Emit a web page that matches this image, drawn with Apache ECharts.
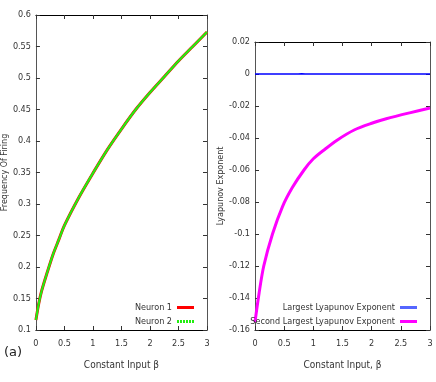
<!DOCTYPE html>
<html>
<head>
<meta charset="utf-8">
<script src="https://cdn.jsdelivr.net/npm/echarts@6/dist/echarts.min.js"></script>
<style>
  html, body { margin: 0; padding: 0; background: #fff; }
  #chart { width: 436px; height: 382px; }
</style>
</head>
<body>
<div id="chart"></div>
<script>
// left panel: firing frequency vs constant input
var betaF = [0, 0.05, 0.1, 0.2, 0.3, 0.4, 0.5, 0.75, 1.0, 1.25, 1.5, 1.75, 2.0, 2.25, 2.5, 2.75, 3.0];
var freqN1 = [0.116, 0.142, 0.162, 0.192, 0.220, 0.243, 0.266, 0.310, 0.349, 0.386, 0.419, 0.450, 0.477, 0.502, 0.527, 0.550, 0.573];
var freqN2 = [0.116, 0.142, 0.162, 0.192, 0.220, 0.243, 0.266, 0.310, 0.349, 0.386, 0.419, 0.450, 0.477, 0.502, 0.527, 0.550, 0.573];

// right panel: lyapunov exponents
var betaL = [0, 0.07, 0.15, 0.3, 0.47, 0.64, 0.84, 1.0, 1.2, 1.4, 1.7, 2.0, 2.25, 2.65, 3.0];
var lyap2 = [-0.155, -0.137, -0.120, -0.100, -0.083, -0.071, -0.060, -0.053, -0.047, -0.0415, -0.0350, -0.0308, -0.0280, -0.0243, -0.0213];
var betaL1 = [0, 0.74, 0.77, 0.8, 0.83, 0.86, 3.0];
var lyap1 = [0, 0, 0.0008, 0.0002, -0.0006, 0, 0];

function pairs(xs, ys) {
  return xs.map(function (x, i) { return [x, ys[i]]; });
}

var tickFont = "'Liberation Sans Narrow', 'DejaVu Sans Condensed', 'Liberation Sans', sans-serif";
var fmt = function (v) { return String(Math.round(v * 1000) / 1000); };

function xBottom(grid, name) {
  return {
    type: "value", gridIndex: grid, min: 0, max: 3, interval: 0.5, position: "bottom",
    name: name, nameLocation: "middle", nameGap: 30,
    nameTextStyle: { fontFamily: tickFont, fontSize: 10, color: "#333" },
    axisLine: { onZero: false, lineStyle: { color: "#000", width: 1 } },
    axisTick: { inside: true, length: 4, lineStyle: { color: "#333" } },
    axisLabel: { fontFamily: tickFont, fontSize: 9, color: "#333", margin: 9, formatter: fmt },
    splitLine: { show: false }
  };
}
function xTop(grid) {
  return {
    type: "value", gridIndex: grid, min: 0, max: 3, interval: 0.5, position: "top",
    axisLine: { onZero: false, lineStyle: { color: "#000", width: 1 } },
    axisTick: { inside: true, length: 4, lineStyle: { color: "#333" } },
    axisLabel: { show: false }, splitLine: { show: false }
  };
}
function yLeft(grid, min, max, step, name) {
  return {
    type: "value", gridIndex: grid, min: min, max: max, interval: step, position: "left",
    name: name, nameLocation: "middle", nameGap: grid === 0 ? 24 : 27,
    nameTextStyle: { fontFamily: "'DejaVu Sans', sans-serif", fontSize: 8, color: "#333" },
    axisLine: { show: true, onZero: false, lineStyle: { color: "#555", width: 1 } },
    axisTick: { show: true, inside: true, length: 4, lineStyle: { color: "#333" } },
    axisLabel: { fontFamily: tickFont, fontSize: 9, color: "#333", margin: 5, formatter: fmt },
    splitLine: { show: false }
  };
}
function yRight(grid, min, max, step) {
  return {
    type: "value", gridIndex: grid, min: min, max: max, interval: step, position: "right",
    axisLine: { show: true, onZero: false, lineStyle: { color: "#555", width: 1 } },
    axisTick: { show: true, inside: true, length: 4, lineStyle: { color: "#333" } },
    axisLabel: { show: false }, splitLine: { show: false }
  };
}

var legendText = { fontFamily: tickFont, fontSize: 9, color: "#333" };
var dashIcon = "path://M0,0h2v3h-2z M3,0h2v3h-2z M6,0h2v3h-2z M9,0h2v3h-2z M12,0h2v3h-2z M15,0h2v3h-2z";

function legendBox(name, icon, color, right, top) {
  return {
    data: [{ name: name, icon: icon, itemStyle: { color: color } }],
    right: right, top: top, align: "right", itemWidth: 17, itemHeight: 3,
    symbolKeepAspect: false,
    textStyle: legendText
  };
}

var option = {
  animation: false,
  backgroundColor: "#fff",
  grid: [
    { left: 32, right: 229, top: 15, bottom: 52 },
    { left: 255, right: 6, top: 42, bottom: 52 }
  ],
  xAxis: [
    xBottom(0, "Constant Input \u03b2"), xTop(0),
    xBottom(1, "Constant Input, \u03b2"), xTop(1)
  ],
  yAxis: [
    yLeft(0, 0.1, 0.6, 0.05, "Frequency Of Firing"), yRight(0, 0.1, 0.6, 0.05),
    yLeft(1, -0.16, 0.02, 0.02, "Lyapunov Exponent"), yRight(1, -0.16, 0.02, 0.02)
  ],
  legend: [
    legendBox("Neuron 1", "rect", "#ff0000", 237, 298),
    legendBox("Neuron 2", dashIcon, "#22ee11", 237, 312),
    legendBox("Largest Lyapunov Exponent", "rect", "#5566ff", 14, 298),
    legendBox("Second Largest Lyapunov Exponent", "rect", "#ff00ff", 14, 312)
  ],
  graphic: [
    { type: "text", left: 4, top: 346, style: { text: "(a)", fontFamily: "'DejaVu Sans', sans-serif", fontSize: 13, fill: "#222" } }
  ],
  series: [
    { name: "Neuron 1", type: "line", xAxisIndex: 0, yAxisIndex: 0, data: pairs(betaF, freqN1),
      smooth: 0.3, symbol: "none", lineStyle: { color: "#ff0000", width: 3 }, itemStyle: { color: "#ff0000" } },
    { name: "Neuron 2", type: "line", xAxisIndex: 0, yAxisIndex: 0, data: pairs(betaF, freqN2),
      smooth: 0.3, symbol: "none", lineStyle: { color: "#22ee11", width: 2.2 }, itemStyle: { color: "#22ee11" } },
    { name: "Largest Lyapunov Exponent", type: "line", xAxisIndex: 2, yAxisIndex: 2, data: pairs(betaL1, lyap1),
      symbol: "none", lineStyle: { color: "#0000ff", width: 1.5 }, itemStyle: { color: "#5566ff" } },
    { name: "Second Largest Lyapunov Exponent", type: "line", xAxisIndex: 2, yAxisIndex: 2, data: pairs(betaL, lyap2),
      smooth: 0.3, symbol: "none", lineStyle: { color: "#ff00ff", width: 3 }, itemStyle: { color: "#ff00ff" } }
  ]
};

echarts.init(document.getElementById("chart")).setOption(option);
</script>
</body>
</html>
